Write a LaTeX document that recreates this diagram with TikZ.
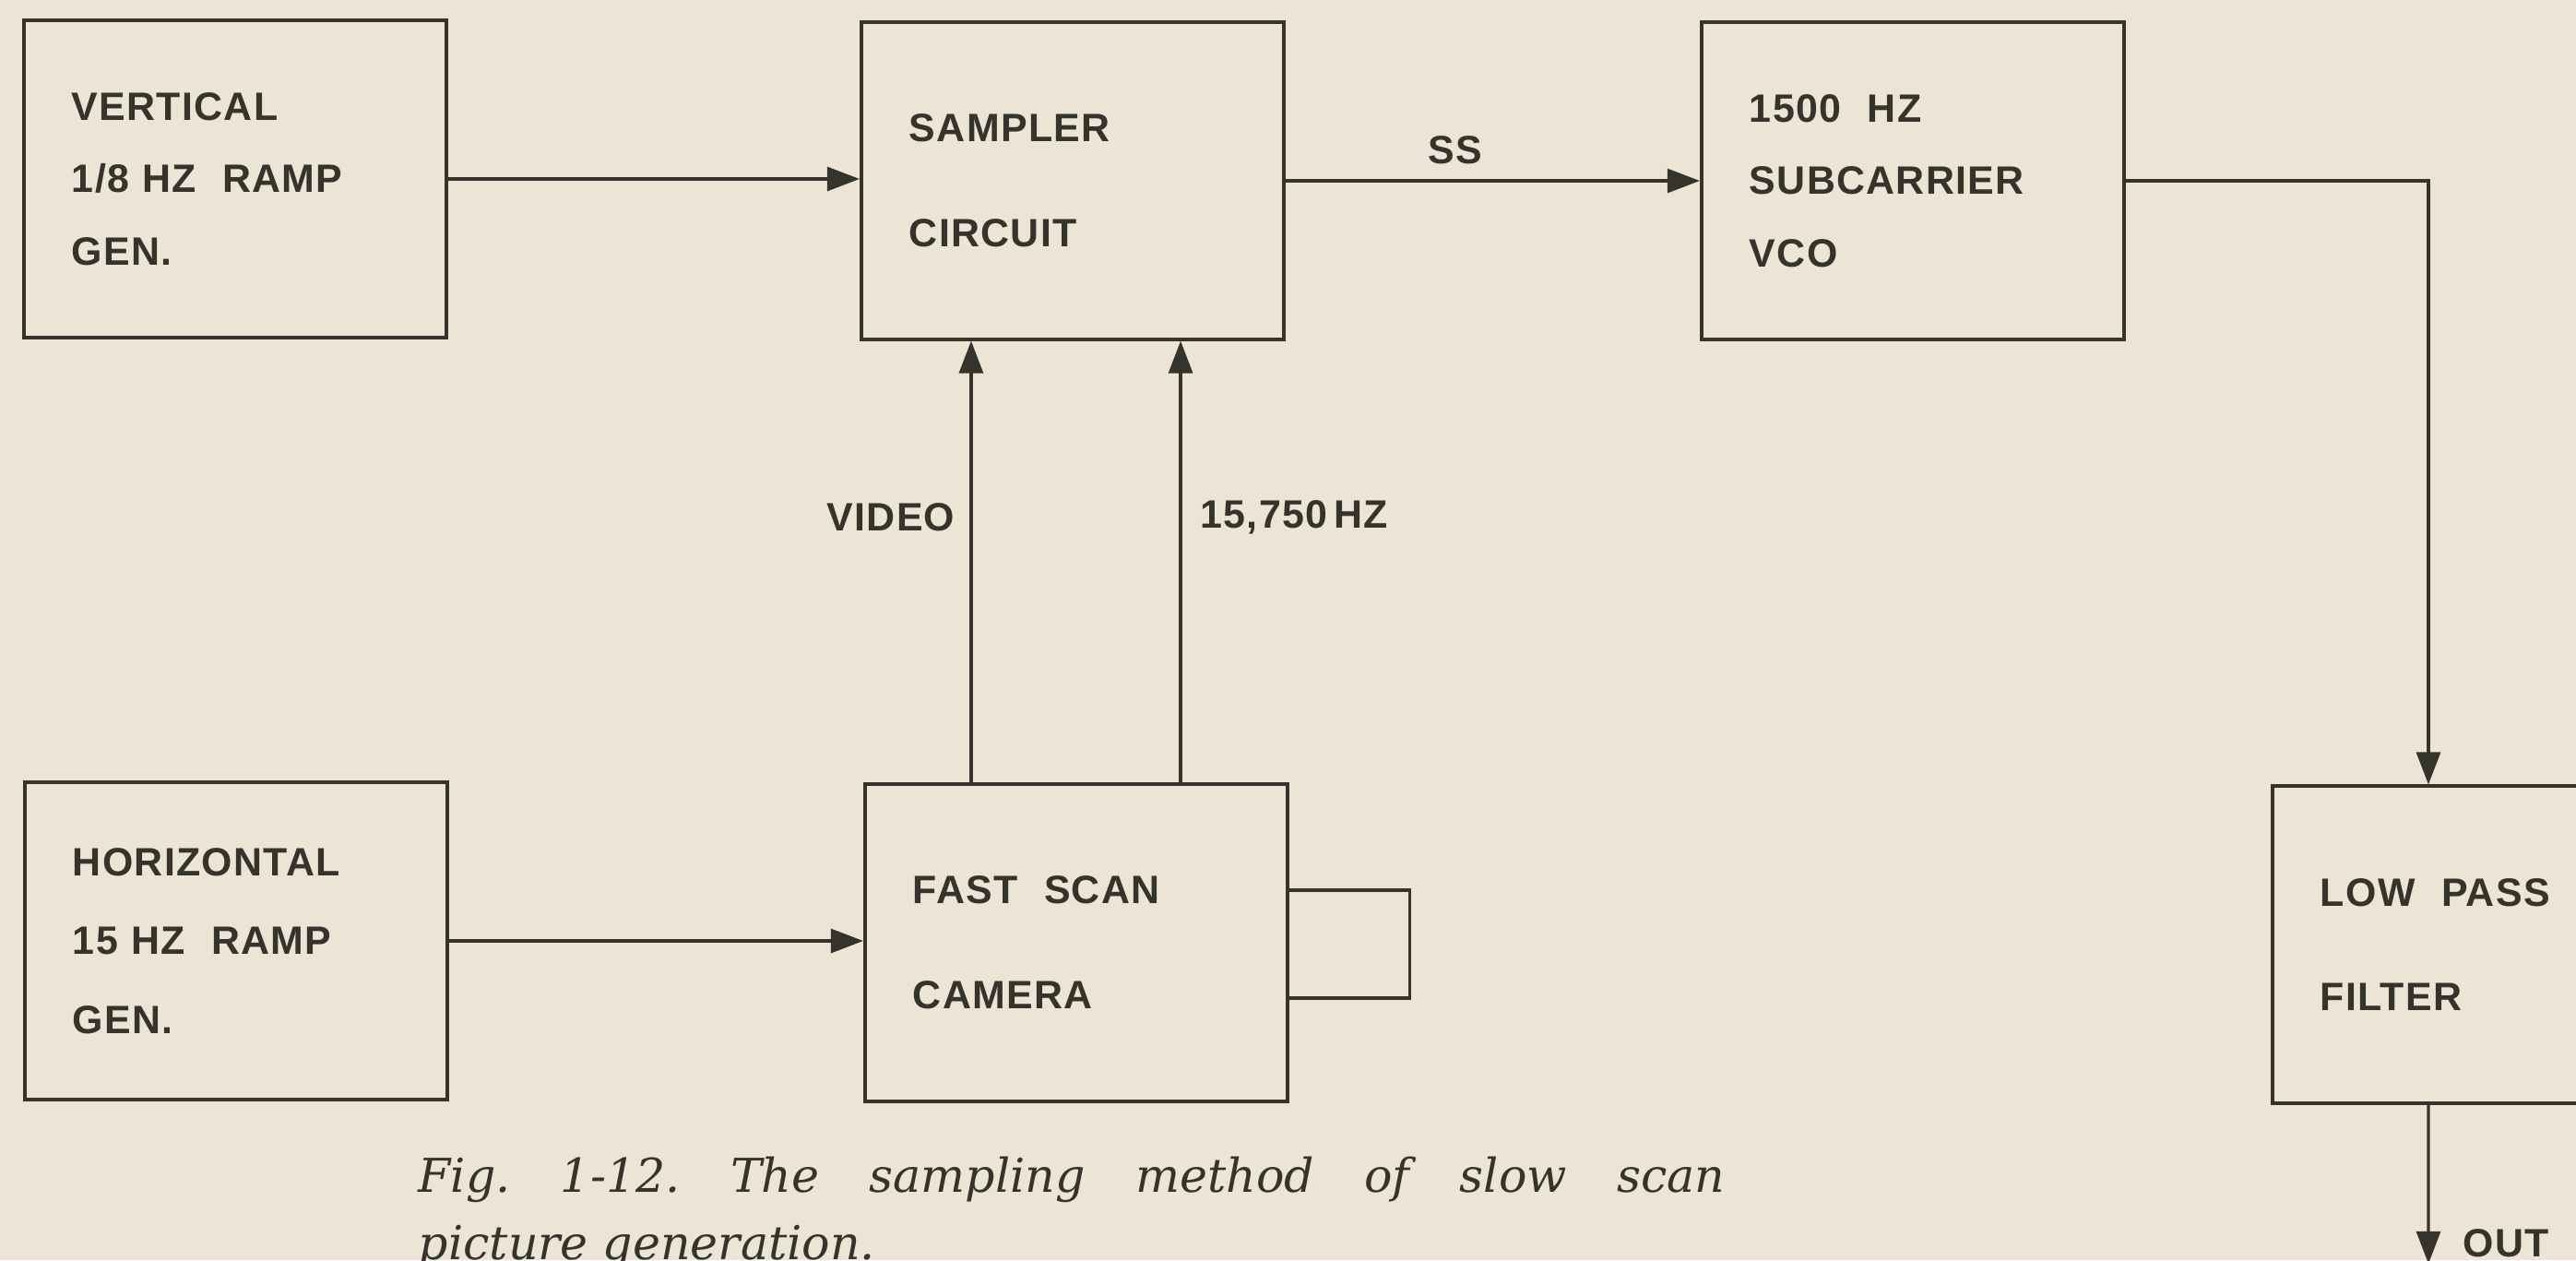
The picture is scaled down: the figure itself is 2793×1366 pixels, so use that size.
\documentclass[tikz,border=0pt]{standalone}
\usepackage{fontspec}
\usepackage{tikz}
\usetikzlibrary{arrows.meta}
\newfontfamily\blkfont[LetterSpace=3]{Liberation Sans}
\newfontfamily\capfont{DejaVu Serif}
\definecolor{paper}{RGB}{236,229,213}
\definecolor{ink}{RGB}{52,52,45}
\frenchspacing

\begin{document}
\begin{tikzpicture}[x=0.01cm,y=-0.01cm,
  blk/.style={draw=ink,line width=1.1pt,minimum width=4.58cm,minimum height=3.43cm,inner xsep=0.52cm,text width=3.54cm,align=left,text=ink,font=\blkfont\bfseries\fontsize{12.2}{22.3}\selectfont},
  sig/.style={draw=ink,line width=0.9pt,-{Triangle[length=10pt,width=7.4pt]}},
  wire/.style={draw=ink,line width=0.9pt},
  lbl/.style={text=ink,inner sep=0pt,font=\blkfont\bfseries\fontsize{12.2}{14}\selectfont},
  capt/.style={text=ink,inner sep=0pt,anchor=base west,font=\capfont\itshape\fontsize{14.4}{18}\selectfont}]
\path[use as bounding box,fill=paper] (0,0) rectangle (2793,1366);
\clip (0,0) rectangle (2793,1366);

\node[blk] (vert) at (255,194) {VERTICAL\\1/8 HZ\ \ RAMP\\GEN.};
\node[blk] (sampler) at (1163,196) {SAMPLER\\[10pt]CIRCUIT};
\node[blk] (vco) at (2074,196) {1500\ \ HZ\\SUBCARRIER\\VCO};
\node[blk] (horiz) at (256,1020) {HORIZONTAL\\[2pt]15 HZ\ \ RAMP\\[2pt]GEN.};
\node[blk] (camera) at (1167,1022) {FAST\ \ SCAN\\[10pt]CAMERA};
\node[blk] (lowpass) at (2693,1024) {LOW\ \ PASS\\[10pt]FILTER};

% top row
\draw[sig] (vert.east) -- (vert.east -| sampler.west);
\draw[sig] (sampler.east) -- (sampler.east -| vco.west) node[lbl,pos=0.41,above=0.16cm] {SS};
\draw[sig] (vco.east) -| ([xshift=-0.6cm]lowpass.north);

% camera to sampler
\draw[sig] ([xshift=-1.14cm]camera.north) -- ([xshift=-1.14cm]camera.north |- sampler.south) node[lbl,pos=0.6,left=0.16cm] {VIDEO};
\draw[sig] ([xshift=1.13cm]camera.north) -- ([xshift=1.13cm]camera.north |- sampler.south) node[lbl,pos=0.6,right=0.2cm] {15,750\,HZ};

% bottom row
\draw[sig] (horiz.east) -- (horiz.east -| camera.west);
\draw[wire] ([yshift=0.57cm]camera.east) -- ++(130,0) |- ([yshift=-0.6cm]camera.east);
\coordinate (out) at (2633,1370);
\draw[sig] ([xshift=-0.6cm]lowpass.south) -- (out) node[lbl,pos=0.87,right=0.36cm] {OUT};

\node[capt] (cap1) at (453,1292) {\makebox[14.16cm][s]{Fig.\ 1-12. The sampling method of slow scan}};
\node[capt] (cap2) at (453,1365) {picture generation.};
\end{tikzpicture}
\end{document}
